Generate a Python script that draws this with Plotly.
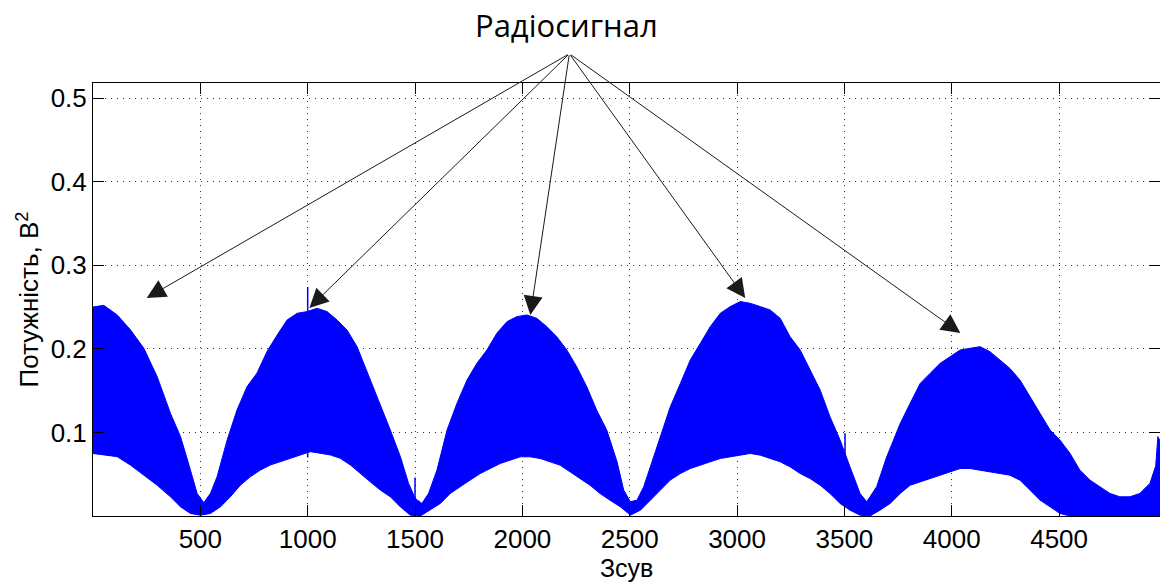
import plotly.graph_objects as go

# Upper envelope of the received power trace (Зсув, В^2)
upper_x = [0, 50, 113, 175, 237, 299, 361, 408, 454, 485, 516, 547, 578, 625, 671, 718, 764, 811,
           858, 904, 951, 997, 1044, 1090, 1137, 1183, 1230, 1292, 1339, 1385, 1432, 1470, 1501,
           1532, 1563, 1602, 1649, 1695, 1742, 1788, 1835, 1881, 1928, 1974, 2021, 2067, 2114,
           2160, 2207, 2253, 2300, 2346, 2393, 2441, 2472, 2503, 2534, 2565, 2596, 2643, 2689,
           2736, 2782, 2829, 2875, 2922, 2968, 3015, 3061, 3108, 3154, 3201, 3247, 3294, 3340,
           3387, 3433, 3480, 3526, 3573, 3604, 3650, 3697, 3760, 3806, 3853, 3899, 3946, 3992,
           4039, 4085, 4132, 4178, 4225, 4271, 4318, 4364, 4411, 4458, 4504, 4551, 4597, 4644,
           4690, 4737, 4783, 4830, 4876, 4923, 4950, 4960, 4970]
upper_y = [0.250, 0.252, 0.2405, 0.2225, 0.2006, 0.1666, 0.1227, 0.0948, 0.0548, 0.027, 0.016,
           0.027, 0.047, 0.091, 0.127, 0.155, 0.171, 0.197, 0.2165, 0.2345, 0.2425, 0.2445,
           0.2485, 0.2445, 0.2345, 0.2225, 0.2026, 0.1626, 0.1346, 0.1028, 0.0708, 0.039, 0.021,
           0.015, 0.027, 0.0548, 0.1028, 0.1346, 0.1626, 0.1826, 0.1986, 0.2186, 0.2325, 0.2385,
           0.2405, 0.2365, 0.2265, 0.2145, 0.1986, 0.1786, 0.1546, 0.1267, 0.1028, 0.0648, 0.031,
           0.017, 0.019, 0.035, 0.0588, 0.0948, 0.1307, 0.1586, 0.1866, 0.2066, 0.2265, 0.2425,
           0.2505, 0.2565, 0.2545, 0.2505, 0.2465, 0.2365, 0.2145, 0.1986, 0.1746, 0.1507,
           0.1187, 0.0908, 0.0588, 0.027, 0.017, 0.035, 0.0708, 0.1107, 0.1347, 0.1586, 0.1706,
           0.1826, 0.1906, 0.1986, 0.2006, 0.2026, 0.1966, 0.1866, 0.1766, 0.1626, 0.1427,
           0.1227, 0.1028, 0.0908, 0.0748, 0.0548, 0.0429, 0.035, 0.027, 0.023, 0.023, 0.027,
           0.039, 0.06, 0.095, 0.09]

# Lower envelope of the same trace
lower_x = [0, 50, 113, 175, 237, 299, 361, 408, 454, 500, 547, 594, 640, 687, 733, 780, 826, 873,
           920, 966, 1013, 1059, 1106, 1152, 1199, 1246, 1292, 1339, 1385, 1432, 1478, 1525, 1571,
           1618, 1664, 1711, 1757, 1804, 1850, 1897, 1943, 1990, 2036, 2083, 2129, 2176, 2222,
           2269, 2315, 2362, 2408, 2457, 2503, 2550, 2596, 2643, 2689, 2736, 2782, 2829, 2875,
           2922, 2968, 3015, 3061, 3108, 3154, 3201, 3247, 3294, 3340, 3387, 3433, 3480, 3526,
           3573, 3619, 3666, 3713, 3760, 3806, 3853, 3899, 3946, 3992, 4039, 4085, 4132, 4178,
           4225, 4271, 4318, 4364, 4411, 4458, 4504, 4551, 4970]
lower_y = [0.0748, 0.0728, 0.071, 0.0608, 0.0488, 0.0368, 0.0229, 0.0109, 0.003, 0.001, 0.003,
           0.011, 0.023, 0.037, 0.047, 0.055, 0.061, 0.065, 0.069, 0.073, 0.077, 0.075, 0.073,
           0.069, 0.061, 0.0508, 0.0408, 0.0309, 0.0229, 0.0109, 0.001, 0.0, 0.007, 0.015, 0.027,
           0.035, 0.043, 0.0508, 0.0568, 0.0628, 0.0668, 0.0708, 0.0708, 0.0688, 0.0648, 0.0608,
           0.0528, 0.0448, 0.0368, 0.0269, 0.0189, 0.0109, 0.001, 0.007, 0.0189, 0.031, 0.043,
           0.0508, 0.0568, 0.0608, 0.0648, 0.0688, 0.0708, 0.0728, 0.0748, 0.0728, 0.0688,
           0.0648, 0.0588, 0.0508, 0.0448, 0.0368, 0.0269, 0.015, 0.007, 0.001, 0.0, 0.007,
           0.015, 0.027, 0.0368, 0.0408, 0.0448, 0.0488, 0.0528, 0.0568, 0.0568, 0.0548, 0.0528,
           0.0508, 0.0488, 0.0428, 0.031, 0.019, 0.011, 0.003, 0.0, 0.0]

# Isolated spikes standing out of the envelope: (shift, bottom, top)
spike_x = [1000, 1500, 3503]
spike_lo = [0.07, 0.0, 0.02]
spike_hi = [0.274, 0.046, 0.099]

# Peaks pointed at by the "Радіосигнал" callout
peak_x = [250, 1008, 2037, 3038, 4040]
peak_y = [0.2608, 0.2489, 0.2405, 0.2608, 0.2189]
callout_x, callout_y = 2219, 0.553

x_ticks = [500, 1000, 1500, 2000, 2500, 3000, 3500, 4000, 4500]
y_ticks = [0.1, 0.2, 0.3, 0.4, 0.5]

BLUE = "#0000ff"
fig = go.Figure()

# filled band between the envelopes
fig.add_trace(go.Scatter(
    x=upper_x + lower_x[::-1], y=upper_y + lower_y[::-1],
    mode="lines", fill="toself", fillcolor=BLUE,
    line=dict(color=BLUE, width=1), hoverinfo="skip", showlegend=False))

sx, sy = [], []
for xv, lo, hi in zip(spike_x, spike_lo, spike_hi):
    sx += [xv, xv, None]
    sy += [lo, hi, None]
fig.add_trace(go.Scatter(x=sx, y=sy, mode="lines", line=dict(color=BLUE, width=1.5),
                         hoverinfo="skip", showlegend=False))

axis_common = dict(
    showline=True, linecolor="black", linewidth=1, mirror="ticks",
    ticks="inside", ticklen=11, tickcolor="black", tickwidth=1,
    showgrid=True, gridcolor="#333333", gridwidth=1, griddash="1px,5px",
    zeroline=False,
    tickfont=dict(family="Liberation Sans, Arial, sans-serif", size=26, color="black"),
)

fig.update_xaxes(range=[0, 4970], tickvals=x_ticks, ticktext=[str(v) for v in x_ticks],
                 **axis_common)
fig.update_yaxes(range=[0, 0.518], tickvals=y_ticks, ticktext=[f"{v:.1f}" for v in y_ticks],
                 **axis_common)

annotations = []
for px_, py_ in zip(peak_x, peak_y):
    annotations.append(dict(
        x=px_, y=py_, xref="x", yref="y", ax=callout_x, ay=callout_y, axref="x", ayref="y",
        text="", showarrow=True, arrowhead=2, arrowsize=3.8, arrowwidth=1,
        arrowcolor="#1a1a1a", standoff=0))

annotations += [
    dict(text="Радіосигнал", x=0.4433, y=1.133, xref="paper", yref="paper",
         xanchor="center", yanchor="middle", showarrow=False,
         font=dict(family="Open Sans, sans-serif", size=31, color="black")),
    dict(text="Зсув", x=0.5, y=-0.119, xref="paper", yref="paper",
         xanchor="center", yanchor="middle", showarrow=False,
         font=dict(family="Liberation Sans, Arial, sans-serif", size=25, color="black")),
    dict(text="Потужність, В<sup>2</sup>", x=-0.0609, y=0.5, xref="paper", yref="paper",
         xanchor="center", yanchor="middle", textangle=-90, showarrow=False,
         font=dict(family="Liberation Sans, Arial, sans-serif", size=26, color="black")),
]

fig.update_layout(
    width=1160, height=584,
    margin=dict(l=93, r=0, t=83, b=68),
    paper_bgcolor="white", plot_bgcolor="white",
    showlegend=False, annotations=annotations,
)

fig.write_html("out.html")
